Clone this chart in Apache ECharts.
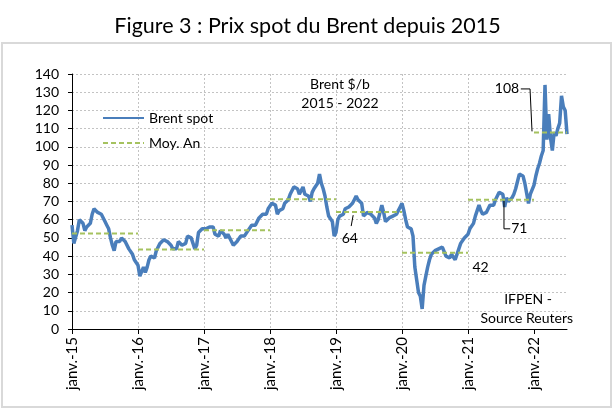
<!DOCTYPE html>
<html>
<head>
<meta charset="utf-8">
<script src="https://cdn.jsdelivr.net/npm/echarts@6/dist/echarts.min.js"></script>
<style>
  html, body { margin: 0; padding: 0; background: #fff; }
  #chart { width: 615px; height: 412px; }
</style>
</head>
<body>
<div id="chart"></div>
<script>
// Brent spot, 3 readings per month (1st, 11th, 21st)
const p2015 = [57,47,48, 54,60,60, 58,54,56, 57,58,63, 66,65,64, 63,63,62, 59,57,55, 50,46,43, 48,47,48, 50,49,48, 47,44,44, 41,38,37]
const p2016 = [35,29,28, 34,31,34, 38,40,40, 39,43,45, 47,48,49, 50,48,49, 46,44,43, 44,48,49, 46,46,47, 51,51,50, 47,44,46, 53,54,55]
const p2017 = [56,55,55, 56,56,56, 52,51,51, 54,55,52, 50,52,53, 48,46,45, 48,49,51, 52,51,52, 54,55,57, 56,57,58, 61,62,63, 63,63,66]
const p2018 = [67,69,70, 68,63,65, 65,66,69, 68,71,74, 75,78,79, 77,74,75, 78,74,73, 73,70,75, 77,78,80, 85,80,77, 73,67,62, 61,59,51]
const p2019 = [53,60,62, 62,63,66, 66,67,67, 69,71,73, 71,72,69, 62,61,64, 64,63,63, 61,58,60, 61,68,64, 59,59,61, 61,62,63, 63,65,67]
const p2020 = [69,65,60, 56,57,55, 51,34,27, 20,18,11, 24,29,34, 38,41,42, 43,43,44, 44,45,45, 40,41,39, 41,42,38, 37,44,47, 48,50,51]
const p2021 = [52,55,56, 58,62,65, 68,65,63, 63,64,66, 68,67,68, 71,73,75, 76,74,67, 72,70,69, 72,74,77, 81,85,85, 84,80,79, 69,74,75]
const p2022 = [79,84,88, 91,95,98, 134,104,118, 105,98,108, 106,110,113, 128,122,120, 107]

const years = [2015, 2016, 2017, 2018, 2019, 2020, 2021, 2022]
const brentByYear = [p2015, p2016, p2017, p2018, p2019, p2020, p2021, p2022]
const yearAvg = [52.4, 43.7, 54.2, 71.3, 64.2, 41.8, 70.9, 107.9]
const tickYears = [2015, 2016, 2017, 2018, 2019, 2020, 2021, 2022]
const xEnd = 2022.5

const FONT = 'Lato'

// readings -> [decimal year, price]
const brentData = []
brentByYear.forEach((arr, k) => {
  arr.forEach((v, i) => brentData.push([years[k] + i / 36, v]))
})

// yearly average: one flat segment per year
const avgData = []
years.forEach((y, k) => {
  avgData.push([y, yearAvg[k]])
  avgData.push([Math.min(y + 1, xEnd), yearAvg[k]])
  avgData.push([Math.min(y + 1, xEnd), '-'])
})

// leader lines for the labelled averages
const leaderData = [
  [2021.80, 131.8], [2021.94, 131.8], [2021.97, 108.5], [2021.97, '-'],
  [2021.545, 70.3], [2021.545, 55], [2021.64, 55], [2021.64, '-'],
  [2019.26, 62.5], [2019.23, 56.5]
]

const notes = [
  { text: 'Brent $/b', at: [2019.06, 134.3], align: 'center' },
  { text: '2015 - 2022', at: [2019.06, 124], align: 'center' },
  { text: '108', at: [2021.775, 131.8], align: 'right' },
  { text: '71', at: [2021.655, 55], align: 'left' },
  { text: '64', at: [2019.21, 49.5], align: 'center' },
  { text: '42', at: [2021.19, 33.5], align: 'center' },
  { text: 'IFPEN -', at: [2021.91, 16], align: 'center' },
  { text: 'Source Reuters', at: [2021.89, 6], align: 'center' }
]

const gridLine = { color: '#c3c3c3', type: [2, 2], width: 1 }

const chart = echarts.init(document.getElementById('chart'))
const option = {
  animation: false,
  title: {
    text: 'Figure 3 : Prix spot du Brent depuis 2015',
    left: 'center',
    top: 10,
    textStyle: { fontFamily: FONT, fontSize: 21.5, fontWeight: 'normal', color: '#000' }
  },
  legend: {
    data: ['Brent spot', 'Moy. An'],
    orient: 'vertical',
    left: 97,
    top: 106,
    itemWidth: 41,
    itemHeight: 14,
    itemGap: 11,
    // hide the marker dot, keep the line sample
    itemStyle: { color: 'transparent', borderColor: 'transparent', borderWidth: 0, opacity: 0 },
    textStyle: { fontFamily: FONT, fontSize: 14, color: '#000' }
  },
  grid: { left: 72, right: 48, top: 74, bottom: 83 },
  xAxis: {
    type: 'value',
    min: 2015,
    max: xEnd,
    interval: 1,
    axisLine: { lineStyle: { color: '#000', width: 1 } },
    axisTick: { show: true, length: 5, customValues: tickYears, lineStyle: { color: '#000' } },
    axisLabel: {
      rotate: 90,
      margin: 8,
      customValues: tickYears,
      fontFamily: FONT,
      fontSize: 15,
      color: '#000',
      formatter: v => (Number.isInteger(v) ? 'janv.-' + String(v).slice(2) : '')
    },
    splitLine: { show: true, showMaxLine: false, lineStyle: gridLine }
  },
  yAxis: {
    type: 'value',
    min: 0,
    max: 140,
    interval: 10,
    axisLine: { show: true, lineStyle: { color: '#000', width: 1 } },
    axisTick: { show: true, length: 4, lineStyle: { color: '#000' } },
    axisLabel: { margin: 13, fontFamily: FONT, fontSize: 14, color: '#000' },
    splitLine: { show: true, lineStyle: gridLine }
  },
  series: [
    {
      name: 'Brent spot',
      type: 'line',
      data: brentData,
      symbol: 'none',
      lineStyle: { color: '#4a7ebb', width: 3.5 },
      itemStyle: { color: '#4a7ebb' },
      z: 2
    },
    {
      name: 'Moy. An',
      type: 'line',
      data: avgData,
      symbol: 'none',
      connectNulls: false,
      lineStyle: { color: '#a5c25f', width: 2, type: [5, 3] },
      itemStyle: { color: '#a5c25f' },
      z: 3
    },
    {
      name: 'leaders',
      type: 'line',
      data: leaderData,
      symbol: 'none',
      silent: true,
      lineStyle: { color: '#000', width: 1 },
      z: 4
    }
  ]
}
chart.setOption(option)

// text annotations placed from data coordinates
const graphic = notes.map(n => {
  const p = chart.convertToPixel({ gridIndex: 0 }, n.at)
  return {
    type: 'text',
    x: p[0],
    y: p[1],
    style: {
      text: n.text,
      font: '14px ' + FONT,
      fill: '#000',
      align: n.align,
      verticalAlign: 'middle'
    },
    z: 10
  }
})
graphic.push({
  type: 'rect',
  shape: { x: 2, y: 43, width: 609, height: 364 },
  style: { fill: 'none', stroke: '#d9d9d9', lineWidth: 2 },
  z: 0
})
chart.setOption({ graphic })
</script>
</body>
</html>
